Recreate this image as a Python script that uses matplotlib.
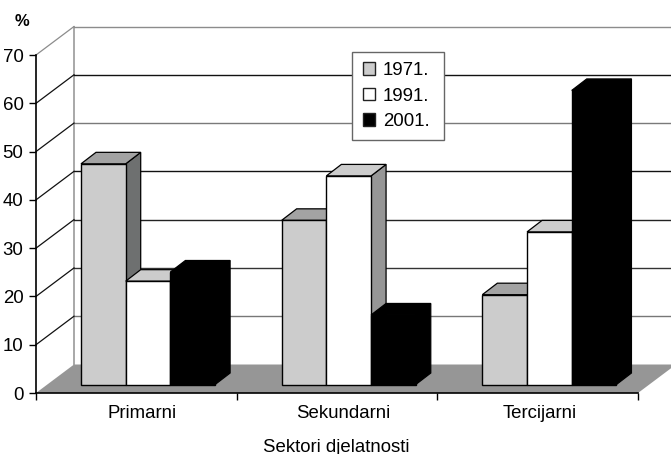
import numpy as np
import matplotlib
matplotlib.use('Agg')
import matplotlib.pyplot as plt
from matplotlib.patches import Polygon, Patch

plt.rcParams['font.family'] = ['Liberation Sans', 'DejaVu Sans']

categories = ['Primarni', 'Sekundarni', 'Tercijarni']
years = ['1971.', '1991.', '2001.']
v1971 = [45.7, 34.0, 18.6]
v1991 = [21.4, 43.2, 31.6]
v2001 = [23.3, 14.4, 60.9]
yticks = [0, 10, 20, 30, 40, 50, 60, 70]

series = [v1971, v1991, v2001]
# boja: prednja, gornja, bocna strana
faces = [('#cccccc', '#a3a3a3', '#6e7070'),
         ('#ffffff', '#cccccc', '#969696'),
         ('#000000', '#000000', '#000000')]
grid_colors = ['#8c8c8c', '#111111', '#7a7a7a', '#111111', '#222222', '#333333', '#777777']

W, H = 671, 454
fig = plt.figure(figsize=(W / 100, H / 100), dpi=100)
ax = fig.add_axes([36 / W, (H - 393) / H, 602 / W, 338 / H])
ax.set_xlim(0, 3)
ax.set_ylim(0, 70)

# 3D pomak zidova i stupaca u jedinicama osi
px_x = 602 / 3
px_y = 338 / 70
DX, DY = 38 / px_x, 28.5 / px_y
off_x, off_y = 11.5 / px_x, 8.5 / px_y
dep_x, dep_y = 15 / px_x, 11.5 / px_y
bar_w = 44.7 / px_x
start = 45 / px_x

# Pod i zidovi
ax.add_patch(Polygon([(0, 0), (DX, DY), (3 + DX, DY), (3, 0)], closed=True,
                     facecolor='#969696', edgecolor='none', clip_on=False, zorder=1))
ax.plot([DX, DX], [DY, 70 + DY], color='#9a9a9a', lw=1.2, clip_on=False, zorder=1)
for v, c in zip(yticks[1:], grid_colors[::-1]):
    ax.plot([DX, 3 + DX], [v + DY, v + DY], color=c, lw=1, clip_on=False, zorder=1)
    ax.plot([0, DX], [v, v + DY], color='#8c8c8c' if v == 70 else '#111111',
            lw=0.9, clip_on=False, zorder=1)

# Stupci
for s, vals in enumerate(series):
    front, top, side = faces[s]
    for i, v in enumerate(vals):
        x0 = i + start + s * bar_w
        x1 = x0 + bar_w
        y0 = off_y
        y1 = off_y + v
        ec = '#000000'
        ax.add_patch(Polygon([(x1, y0), (x1 + dep_x, y0 + dep_y), (x1 + dep_x, y1 + dep_y), (x1, y1)],
                             closed=True, facecolor=side, edgecolor=ec, lw=0.9, zorder=3 + s))
        ax.add_patch(Polygon([(x0, y1), (x0 + dep_x, y1 + dep_y), (x1 + dep_x, y1 + dep_y), (x1, y1)],
                             closed=True, facecolor=top, edgecolor=ec, lw=0.9, zorder=3 + s))
        ax.bar(x0, v, bar_w, bottom=y0, align='edge', color=front, edgecolor=ec, lw=1, zorder=3 + s)

for sp in ['top', 'right']:
    ax.spines[sp].set_visible(False)
for sp in ['left', 'bottom']:
    ax.spines[sp].set_linewidth(1.2)
    ax.spines[sp].set_zorder(8)

ax.set_yticks(yticks)
ax.set_xticks([0, 1, 2, 3])
ax.set_xticklabels([])
ax.set_xticks([0.53, 1.53, 2.51], labels=categories, minor=True)
ax.tick_params(axis='y', length=5, width=1, labelsize=13.4, pad=4)
ax.tick_params(axis='x', which='major', length=5, width=1)
ax.tick_params(axis='x', which='minor', length=0, labelsize=13.4, pad=9)
ax.set_xlabel('Sektori djelatnosti', fontsize=13.4)
ax.xaxis.set_label_coords(300 / 602, -54 / 338)
ax.xaxis.label.set_va('center')

fig.text(22 / W, 1 - 21 / H, '%', fontsize=12, fontweight='bold', ha='center', va='center')

handles = [Patch(facecolor=f[0], edgecolor='#222222', lw=1) for f in faces]
leg = ax.legend(handles, years, loc='upper left', mode='expand',
                bbox_to_anchor=(352.5 / W, 1 - 140 / H, 91.5 / W, 88 / H), bbox_transform=fig.transFigure,
                fontsize=13.4, fancybox=False, framealpha=1, edgecolor='#666666',
                handlelength=0.65, handleheight=0.65, handletextpad=0.43,
                labelspacing=0.45, borderpad=0.55, borderaxespad=0)
leg.set_zorder(10)
leg.get_frame().set_linewidth(1)

fig.savefig('out.png', dpi=100)
